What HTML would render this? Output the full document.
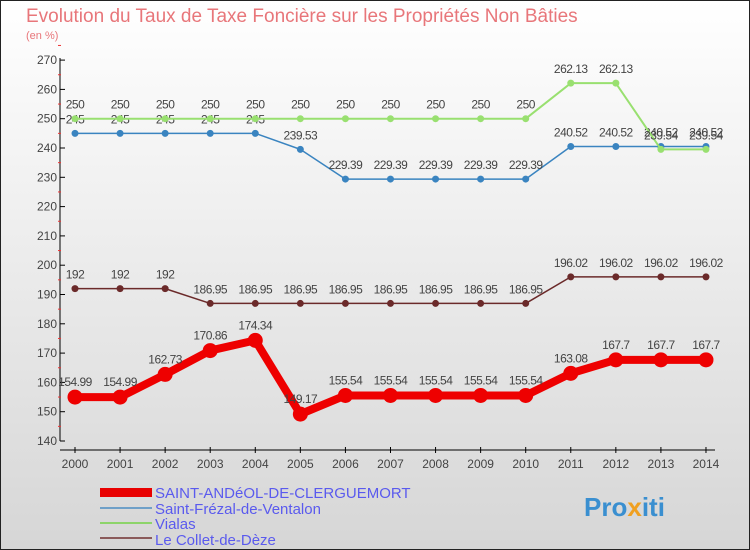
<!DOCTYPE html>
<html><head><meta charset="utf-8"><style>
body{margin:0;width:750px;height:550px;overflow:hidden;font-family:"Liberation Sans",sans-serif}
svg{display:block}
</style></head><body>
<svg width="750" height="550" viewBox="0 0 750 550">
<defs><linearGradient id="bg" x1="0" y1="0" x2="0" y2="1"><stop offset="0" stop-color="#ffffff"/><stop offset="1" stop-color="#d6d6d6"/></linearGradient></defs>
<rect x="0.5" y="0.5" width="749" height="549" fill="url(#bg)" stroke="#222"/>
<text x="26" y="22" font-size="19" fill="#e8767a">Evolution du Taux de Taxe Foncière sur les Propriétés Non Bâties</text>
<text x="26" y="39" font-size="11" fill="#e8767a">(en %)</text>
<g id="axes"></g>
<g id="series"></g>
<g id="legend" font-size="15" fill="#5a5aee">
<rect x="100" y="488" width="52" height="9" fill="#e80000"/>
<text x="155" y="498">SAINT-ANDéOL-DE-CLERGUEMORT</text>
<rect x="100" y="507" width="52" height="2" fill="#6fa0c8"/>
<text x="155" y="514">Saint-Frézal-de-Ventalon</text>
<rect x="100" y="522" width="52" height="2" fill="#8dd46a"/>
<text x="155" y="529">Vialas</text>
<rect x="100" y="537" width="52" height="2" fill="#8a5a5a"/>
<text x="155" y="545">Le Collet-de-Dèze</text>
</g>
<text x="584" y="516" font-size="26" font-weight="bold" fill="#3a8fd0">Pro<tspan fill="#f0a020">x</tspan>iti</text>
</svg>
<script>
const years=[2000,2001,2002,2003,2004,2005,2006,2007,2008,2009,2010,2011,2012,2013,2014];
const yTicks=[140,150,160,170,180,190,200,210,220,230,240,250,260,270];
const andeol=[154.99,154.99,162.73,170.86,174.34,149.17,155.54,155.54,155.54,155.54,155.54,163.08,167.7,167.7,167.7];
const frezal=[245,245,245,245,245,239.53,229.39,229.39,229.39,229.39,229.39,240.52,240.52,240.52,240.52];
const vialas=[250,250,250,250,250,250,250,250,250,250,250,262.13,262.13,239.54,239.54];
const collet=[192,192,192,186.95,186.95,186.95,186.95,186.95,186.95,186.95,186.95,196.02,196.02,196.02,196.02];
const NS='http://www.w3.org/2000/svg';
const X=i=>75+i*45.07;
const Y=v=>441-(v-140)*2.93;
function mk(t,a,p){const e=document.createElementNS(NS,t);for(const k in a)e.setAttribute(k,a[k]);p.appendChild(e);return e;}
const ax=document.getElementById('axes');
let l=mk('line',{x1:60,y1:58,x2:60,y2:441,stroke:'#000'},ax);


yTicks.forEach(v=>{
 mk('line',{x1:60,y1:Y(v),x2:65,y2:Y(v),stroke:'#000'},ax);
 mk('line',{x1:58,y1:Y(v+5),x2:61,y2:Y(v+5),stroke:'#e33'},ax);
 const t=mk('text',{x:57,y:Y(v)+4,'font-size':12,'text-anchor':'end',fill:'#444'},ax);t.textContent=v;
 
 
});
l=mk('line',{x1:60,y1:450,x2:715,y2:450,stroke:'#000'},ax);


years.forEach((y,i)=>{
 mk('line',{x1:X(i),y1:447,x2:X(i),y2:453,stroke:'#000'},ax);
 const t=mk('text',{x:X(i),y:468,'font-size':12,'text-anchor':'middle',fill:'#444'},ax);t.textContent=y;
 
 
});
const sg=document.getElementById('series');
function series(data,color,w,r,name,dy){
 const g=mk('g',{},sg);
 
 
 mk('polyline',{points:data.map((v,i)=>X(i)+','+Y(v)).join(' '),fill:'none',stroke:color,'stroke-width':w,'stroke-linejoin':'round'},g);
 data.forEach((v,i)=>{
  const c=mk('circle',{cx:X(i),cy:Y(v),r:r,fill:color},g);
  
  
  const t=mk('text',{x:X(i),y:Y(v)+dy,'font-size':12,'text-anchor':'middle',fill:'#444','letter-spacing':'-0.5'},g);
  t.textContent=String(v);
  
  
 });
}
series(collet,'#6b2a2a',1.5,3.5,'series-le-collet',-10);
series(frezal,'#3a84c0',1.5,3.5,'series-saint-frezal',-10);
series(vialas,'#99e070',2,3.5,'series-vialas',-10);
series(andeol,'#ee0000',8,7.5,'series-saint-andeol',-11);
</script>
</body></html>
